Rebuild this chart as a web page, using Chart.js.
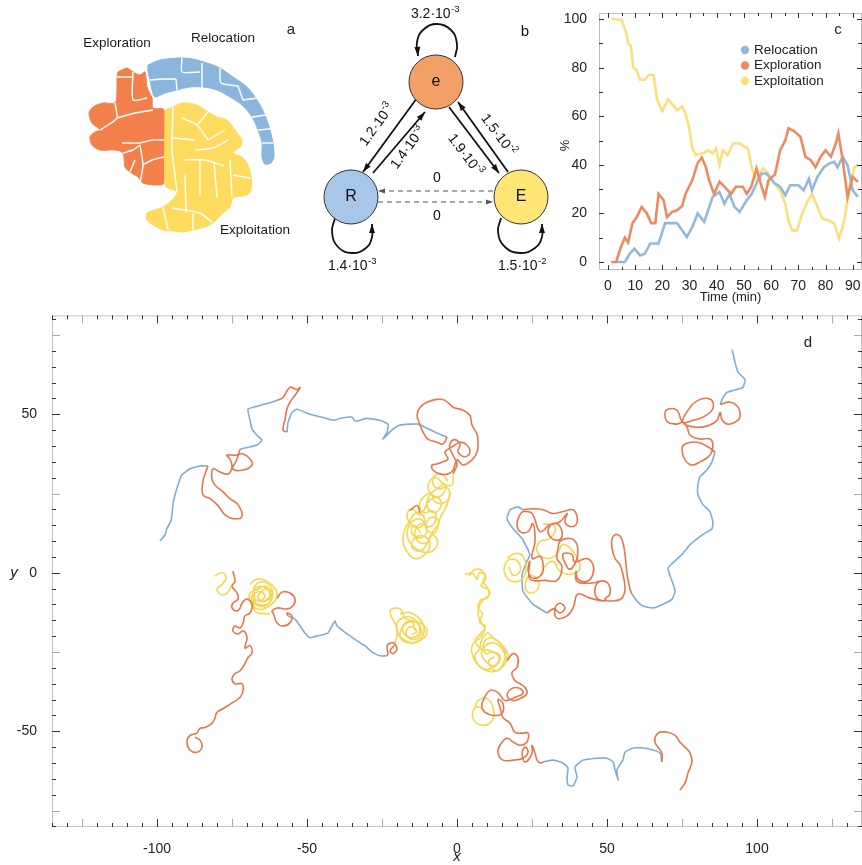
<!DOCTYPE html>
<html><head><meta charset="utf-8">
<script src="https://cdn.jsdelivr.net/npm/chart.js@4.4.0/dist/chart.umd.min.js"></script>
<style>
body{margin:0;background:#fff;width:862px;height:865px;position:relative;overflow:hidden}
canvas{position:absolute}
</style></head><body>
<canvas id="cd" width="862" height="565" style="left:0;top:300px"></canvas>
<canvas id="ca" width="300" height="290" style="left:0;top:0"></canvas>
<canvas id="cb" width="250" height="290" style="left:300px;top:0"></canvas>
<canvas id="cc" width="317" height="310" style="left:545px;top:0"></canvas>
<script>
// ---------------- DATA ----------------
// Panel a : cluster map (arbitrary map units)
const explorationRegion = [[118,72],[127,68],[133,72],[140,75],[145,72],[147,87],[152,98],[153,108],[164,110],[164,183],[157,185],[143,183],[138,177],[130,172],[125,167],[123,153],[115,150],[100,150],[92,145],[90,137],[95,132],[100,130],[92,123],[89,113],[93,107],[103,103],[115,103],[117,90],[117,77]];
const exploitationRegion = [[165,110],[173,107],[182,103],[197,105],[208,112],[217,117],[227,120],[233,127],[237,133],[242,140],[240,147],[233,153],[242,157],[248,165],[251,177],[251,190],[247,195],[233,198],[230,207],[223,213],[213,223],[205,227],[193,230],[183,232],[173,231],[163,230],[153,225],[147,220],[147,213],[155,210],[163,207],[172,200],[177,192],[168,188],[165,185]];
const relocationRegion = [[148,65],[160,60],[180,58],[193,59],[207,63],[220,68],[233,77],[247,87],[257,100],[265,115],[270,130],[273,143],[274,157],[271,163],[265,164],[262,157],[262,143],[258,130],[252,117],[242,105],[230,97],[217,90],[203,87],[190,87],[177,90],[165,93],[155,97],[152,90],[150,80],[148,72]];
const cellBorders = [
 [[150,80],[162,79],[176,79]],[[176,79],[177,90]],[[182,58],[182,72],[200,72]],[[202,63],[202,88]],[[220,68],[221,83],[238,86]],[[238,86],[243,100]],[[243,100],[258,98]],[[252,117],[266,115]],[[258,130],[270,129]],[[262,143],[273,143]],
 [[117,77],[133,77]],[[133,72],[133,100],[147,98]],[[115,103],[117,118],[108,125],[100,130]],[[117,118],[135,113],[153,110]],[[122,143],[140,143],[152,140],[164,140]],[[123,153],[133,150],[140,145]],[[140,145],[143,165],[140,183]],[[143,165],[152,160],[164,157]],[[130,172],[135,160]],
 [[173,107],[172,150],[175,175],[177,192]],[[182,118],[197,125],[208,140]],[[173,138],[195,140]],[[197,125],[208,112]],[[195,150],[213,148],[228,140]],[[185,160],[205,160],[224,166]],[[200,160],[200,195]],[[214,162],[217,198]],[[230,160],[232,197]],[[185,175],[186,213]],[[172,208],[200,213],[213,223]],[[193,213],[193,230]],[[163,207],[168,230]],[[233,175],[250,178]],[[208,140],[225,130]]
];
const regionLabels = [['Exploration',117,43],['Relocation',223,38],['Exploitation',255,230]];

// Panel b : state diagram (diagram units)
const stateNames = ['e','R','E'];
const stateX = [136,51,221];
const stateY = [82,197,197];
const transitions = [ // [x0,y0,x1,y1,dashed]
 [117,98,63,172,0],[73,173,125,112,0],[149,107,199,173,0],[208,172,158,102,0],[193,191,78,191,1],[78,202,193,202,1]];
const loopE = [[155,57],[157,44],[151,30],[137,24],[123,30],[117,42],[118,56]];
const loopR = [[35,218],[32,232],[38,247],[52,253],[66,248],[72,237],[72,224]];
const loopEx = [[201,218],[198,232],[205,247],[220,253],[235,248],[242,237],[242,224]];
const rateBase = ['3.2·10','1.2·10','1.4·10','1.9·10','1.5·10','0','0','1.4·10','1.5·10'];
const rateExp  = ['-3','-3','-3','-3','-2','','','-3','-2'];
const rateX = [135,77,108,165,198,137,137,52,222];
const rateY = [14,125,148,155,135,178,216,266,266];
const rateRot = [0,-54,-54,53,53,0,0,0,0];

// Panel c : % over time
const relocTime = [2.5,6.2,8,9.7,11.8,13.6,15.5,18.6,21,25.4,27.3,29,31,33,35.4,38.5,41,42.8,44.7,46.5,48.4,51,52.8,54.6,56.5,58.3,61.4,63.3,65.2,67,70,72,73.9,75,77,79.4,81.3,83.2,84.4,86.3,88.1,90,91.9];
const relocPct  = [0,0,3.4,5.5,2.7,3.4,7.6,7.6,16,16,13,10.3,14.4,20,16.5,26.8,28.8,24,28,22.7,20.6,25.4,28,32.3,36.4,36.4,32.3,31,27.5,31.6,31.6,29.5,34.3,29.5,35,39,40.5,41.2,39,43.3,39.8,29.5,26.8];
const explTime = [1.2,3,4.7,6.2,7.4,9,10.6,12.4,14.3,15.9,17.4,18.6,20.5,21.7,23.6,25.4,27.3,28.5,31,32.9,34.5,36,37.2,39,41,42.8,45.3,47,49.6,51,52.7,54.6,56.5,57.7,59,61.4,63.3,65.2,66.4,68.3,70.8,72.6,74.5,76.3,78.2,80,82,83.8,84.7,86.3,88.1,90,91.9];
const explPct  = [0,0,6,10,8,16,18.5,22.7,20,16,16,28,25.4,18.5,20.6,21.3,23,28,33.6,40.5,43,39,33.6,28,33,31,28,31,31,28,31,38.5,31,26.8,33.6,36,46,50,55,54,51.5,43.3,42,39,43.3,46,43.3,48.8,53,42,26.8,35,33];
const exploitTime = [1.2,5,6.8,7.4,8.4,9.3,10.5,11.8,13.6,15,16.8,18,20,22,23.6,25.4,27.3,28.5,29.8,31,32.3,34,35.4,37,38.5,39.7,41,42.2,44,46,48.4,50.3,51.5,52.8,54.6,57,59,60.8,63.3,65.2,66.4,67.7,69.5,71.4,73.2,75,77,78.8,81.3,83.2,85,86.9,88.8,90.6,92];
const exploitPct  = [100,99.6,94,90,89,80,79,75,75,77,77,67,62,67,65,62.5,64,61,55.6,47,44,44.6,45,46,44.6,46.7,40,46,44,48.8,48.8,47.4,46.7,39,33.6,38.5,36.4,33,29.5,24,17,13,13,20,24.7,28,22.7,17.9,17,15.8,9.6,17,31,39,40];
const cXTickLabels = [0,10,20,30,40,50,60,70,80,90];
const cYTickLabels = [0,20,40,60,80,100];
const seriesNames = ['Relocation','Exploration','Exploitation'];

// Panel d : trajectories (x, y)
const t1Reloc1 = [[-99,10],[-97.3,12],[-96.7,14],[-95.5,16],[-95,18.3],[-94.7,21.5],[-94,24.6],[-93,27.7],[-91.7,30.9],[-89,32.8],[-85.7,33.7],[-83,33.7]];
const t1Expl1 = [[-83,33.7],[-84,31.2],[-84.7,28.7],[-84.7,24.6],[-82.3,23.4],[-80,21.5],[-77.3,18.3],[-74.7,17.1],[-71.7,17.7],[-73,21.5],[-75.7,23.4],[-78,25.5],[-80.7,27.7],[-81.7,29.6],[-81.3,32.8],[-79,31.8],[-76.3,31.2],[-75,33.4],[-75.7,35.9],[-76.7,37.1],[-74,37.1],[-71.3,37.5],[-69,35.9],[-68.3,34],[-71.3,32.4],[-74.7,32.8],[-73.5,35.5],[-72.3,39]];
const t1Reloc2 = [[-72.3,39],[-69,39.7],[-66.7,40.3],[-65,41.8],[-66.7,43.4],[-68.3,45.3],[-69,48.1],[-69.7,51.6],[-68,52.2],[-65.7,52.8],[-61.7,53.8],[-60,54.4]];
const t1Expl2 = [[-60,54.4],[-58,55.3],[-55.7,58.5],[-53.3,57.8],[-52.3,58.5],[-54,56],[-55.7,53.8],[-56.7,51.6],[-57.3,48.4],[-58,45],[-56.7,44.4]];
const t1Reloc3 = [[-56.7,44.4],[-56.3,47.5],[-55,50.6],[-53.3,51.6],[-49,50],[-45,49.1],[-41.3,48.1],[-39,48.7],[-35,49.1],[-34,47.8],[-30,48.7],[-25.7,48.1],[-23,46.9],[-23.3,44.4],[-24.7,42.2],[-21.7,45],[-19,46.6],[-15.7,46.9],[-13,46.9],[-10,45.6],[-5.7,43.7],[-3.3,42.8]];
const t1Expl3 = [[-3.3,42.8],[-4.7,40.6],[-6.7,41.2],[-9.7,42.2],[-11.3,44.4],[-12.3,46.6],[-13.3,49.7],[-12.3,52.2],[-10,53.8],[-6.7,54.7],[-4,54.4],[-1.3,52.2],[2,51.3],[4.3,49.7],[5,46.6],[6.7,43.7],[7,41.2],[6.7,38.1],[5,35.6],[2,34],[0,35.6],[-1.3,32.4],[-3,31.2],[-5.7,31.2],[-8,32.4],[-8.3,34],[-6.7,34.3],[-4.7,35],[-3,35.9],[-4,38.1],[-1.7,39.7],[1,41.2],[3.3,40.3],[4.3,38.1],[2.7,36.6],[0.3,38.1],[1,40.6],[-1,42],[-2.5,40],[-1.3,37],[0,34.3],[-1.3,31.2]];
const t1Exploit = [[-1.3,30.9],[-1.7,27.7],[-4.7,28.1],[-6.7,30],[-9,29],[-9.5,26],[-7,24],[-4.5,25],[-4,28],[-6.7,26.5],[-9,24.6],[-10,21.5],[-8,19],[-5.5,20.5],[-6,23.5],[-9,23],[-12.3,18.3],[-15,20.2],[-16.7,18.3],[-15,15],[-12,14.5],[-11,17.5],[-13.5,19],[-16,16],[-17.3,13.9],[-18,9.9],[-16.7,6.7],[-14,4.5],[-10.7,5.8],[-9,8.9],[-11,11.5],[-14,11],[-15,8],[-12,7],[-9.5,10],[-8,13],[-6,16],[-8.5,17.5],[-10.5,14.5],[-7.5,12.5],[-5.7,17.1],[-3.3,21.5],[-2.3,25.5]];
const t1Exploit2 = [[-3,29],[-5,31],[-7.5,30.5],[-8,28],[-6,26.5],[-3.5,27],[-2.5,24],[-4.5,22],[-7.5,22.5],[-8.5,25],[-11,24],[-12.5,21.5],[-11,19],[-8,19.5],[-7,17],[-9,14.5],[-12,15.5],[-14,13],[-13,10],[-10,9.5],[-8.5,12],[-6.5,10],[-8,7],[-11,6.5],[-13.5,7.5],[-16,10],[-16.5,13.5],[-14.5,16.5],[-11.5,16.5],[-10,13],[-12.5,11],[-15,12.5],[-14.5,15],[-12,12.5]];
const t1Expl4 = [[-15.7,19.6],[-13.3,21.2],[-12.3,18.9]];
const t2Reloc1 = [[91.7,70.4],[92.7,66.3],[93.7,63.2],[96,61],[95.3,58.5],[92,57.5],[90,56.9],[88.7,55.3],[87.7,53.1]];
const t2Expl1 = [[87.7,53.1],[91,53.8],[93.7,52.2],[94.3,49.1],[92.7,47.5],[90,46.9],[88.3,48.4],[87.7,50.6],[86.7,48.1],[84.3,46.6],[80,45.9],[75.3,47.5],[77.7,52.2],[80.3,54.4],[83.7,55],[85.3,53.8],[85,51.3],[82,49.1],[78.7,48.1],[75.3,47.5],[73.3,51.3],[70.3,51.6],[69.3,50],[70.3,47.5],[73.3,46.9],[75.3,47.5],[76.7,45.9],[77.7,43.4],[81,42.2],[84.3,42.2],[85.3,40.3],[84.3,37.1],[81,35],[78.3,34],[76,35.6],[75,39],[76,40.6],[80,41.2],[83.7,39.7],[86,38.1]];
const t2Reloc2 = [[86,38.1],[85,35],[83.3,32.4],[81,30.3],[80.3,27.7],[80.3,24.6],[82,21.5],[84.3,19.3],[85.3,16.1],[85,13.9],[82,12.1],[77.7,8.9],[75,5.8],[71.7,2.9],[70.3,1.4],[71.7,-2.7],[72.7,-5.8],[71.7,-8.3],[68.7,-9.9],[65.3,-11.1],[62,-10.5],[60,-8.9],[58.3,-6.7]];
const t2Expl2 = [[58.3,-6.7],[57.7,-5.2],[56.7,-0.5],[56,5.8],[55,10.5],[53.3,12.1],[51.7,10.8],[51.7,7.7],[52.7,4.5],[54.3,2.6],[55.3,-0.5],[56,-4.9],[55,-8],[52,-8.9],[49.3,-8.3],[51,-6.7],[50.3,-3.3],[47.7,-2.7],[46,-4.9],[46.7,-8],[49.3,-8.9],[44.3,-8],[40.3,-6.7],[38.7,-11.1],[36.7,-13.6],[33.3,-14.3],[32.7,-11.1],[34.3,-9.6],[36,-11.1],[34.3,-12.7],[32.3,-11.4],[30,-12.7]];
const t2Reloc3 = [[30,-12.7],[25.3,-9.9],[22,-5.8],[21.7,-0.5],[23.3,3.6],[24.3,5.8],[21.7,10.8],[18.7,13.9],[16.7,17.1],[17.7,19.9],[20.3,20.8],[22,19.9]];
const t2Expl3 = [[22,19.9],[25.3,20.2],[28.7,19.9],[32,18.7],[35.3,19.3],[38.7,19.9],[40,17.7],[39.7,15.2],[37.7,14.6],[36,16.1],[36.7,18.7],[34.3,16.1],[31,15.2],[33.3,15.5],[35,13],[34.3,10.5],[31.7,10.8],[30.3,13],[31,15.2],[27.7,13],[25,18.7],[22,19.3],[21,18.3],[20,15.5],[21,13],[23.7,13],[25.3,15.5],[26,9.9],[25,4.5],[27.7,5.2],[28.7,2.6],[28.3,-0.5],[25.3,-1.7],[23.7,0.5],[24.3,3.6],[24.3,-2],[29.3,-2.4],[33.3,-2.4],[35,2],[33.3,4.5],[33.7,7.7],[34.3,9.9],[37.7,10.8],[40,8.9],[40,4.5],[38.3,1.4],[37,1.4],[35.3,5.8],[38.3,5.8],[39,3.6],[40.3,3.6],[43.3,4.5],[45.3,2.6],[45.3,-0.5],[43.3,-2.7],[40.3,-2],[39.7,0.5],[40,-2.7],[44.3,-3.3],[47.7,-2.7]];
const t2Exploit1 = [[16.7,4.5],[19.3,6.1],[22,5.2],[23,1.4],[21.7,-2],[18.3,-2.7],[16,-0.5],[16,2.6],[17.7,4.2],[20.3,3.6],[21,0.5],[18.7,-0.8],[17.3,1.8]];
const t2Exploit2 = [[23.7,-0.5],[26.7,-1.7],[27,-4.9],[24.3,-6.4],[22.7,-4.2],[23.7,-1.1]];
const t2Exploit3 = [[28.7,15.5],[32.7,14.6],[31,10.8],[27.7,9.9],[26.7,6.7],[30,4.5],[33.3,5.8],[35.3,8.9],[38.7,6.7],[41,1.4],[37.7,-0.5],[34.3,0.5],[32,3.6],[29.3,2],[27.7,-1.1]];
const t3Exploit1 = [[-80.7,-1],[-78.3,0],[-77,-1.7],[-78.3,-3.6],[-80,-5.2],[-78.3,-7],[-76.3,-6.1],[-75.3,-4.2]];
const t3Expl1 = [[-74.7,0.5],[-74,-2.7],[-75,-4.2],[-73.3,-6.4],[-73,-8.3],[-74.7,-9.6],[-75,-11.1],[-73.3,-12.1],[-72.3,-11.1],[-71.7,-9.6],[-70,-8.3],[-68.3,-9.9],[-69,-12.7],[-70.7,-13.6],[-71.3,-15.8],[-72.3,-17.4],[-74,-16.8],[-74.7,-18.3],[-73,-19.3],[-71.3,-18.3],[-70,-20.5],[-70.7,-23.7],[-69,-23],[-68.3,-25.2],[-69.7,-26.8],[-70.7,-28.7],[-72.3,-30.9],[-74,-31.8],[-75,-33.4],[-74,-35],[-71.7,-35],[-71.3,-37.1],[-72.3,-39.3],[-74.7,-40.9],[-77.3,-42.5],[-80,-44],[-80.7,-45.9],[-81.7,-47.5],[-84,-48.8],[-85.7,-49.1],[-86.7,-50.6],[-89,-51.3],[-90,-53.4],[-89,-55.9],[-86.7,-56.6],[-85,-55],[-85.7,-52.8],[-87.3,-51.9]];
const t3Exploit2 = [[-69,-3.6],[-66.7,-2],[-63.3,-2.7],[-60.7,-4.9],[-60,-7.4],[-61.7,-9.9],[-64.7,-11.4],[-67.3,-11.1],[-69,-8.9],[-69,-6.4],[-66.3,-5.2],[-64,-4.2],[-62.3,-6.4],[-64,-8.9],[-66.3,-8],[-65,-5.8],[-62.7,-5],[-61.5,-7.5],[-63.5,-10],[-67,-9.5],[-67.5,-6.5],[-67.3,-12.1],[-62.3,-13]];
const t3Exploit4 = [[-68,-5],[-66,-3],[-63,-3.5],[-61.5,-6],[-63,-8.5],[-66,-9],[-68,-7],[-66.5,-4.5],[-63.5,-5],[-62,-8],[-64,-10.5],[-67,-10],[-68.5,-7.5],[-65.5,-6],[-64,-7.5],[-65.5,-9]];
const t3Expl2 = [[-60,-8],[-58.3,-6.1],[-55.7,-6.4],[-54,-8.3],[-54.7,-10.5],[-56.7,-11.4],[-60,-11.1],[-61.7,-12.1],[-61.3,-12.7],[-60,-15.8],[-58,-16.8],[-55.7,-15.8],[-55,-13.6],[-56.7,-12.7],[-56.3,-13.6]];
const t3Reloc1 = [[-56.3,-13.6],[-54,-14.6],[-52.3,-16.8],[-50.7,-19],[-49,-20.5],[-46.7,-19.9],[-45,-19.6],[-43,-19],[-41.3,-16.1],[-40.7,-15.2],[-40,-16.8],[-38,-18.3],[-35.7,-19.9],[-33.3,-21.5],[-30.7,-23],[-28,-25.2],[-25.7,-26.2],[-23.3,-26.2]];
const t3Expl3 = [[-23.3,-26.2],[-23,-25.5],[-23.3,-23],[-21.3,-22.1],[-20,-24],[-21.3,-25.5],[-22.3,-24.6],[-21,-23]];
const t3Exploit3 = [[-21,-23],[-20,-19.9],[-20,-17.4],[-22.3,-12.1],[-19,-11.4],[-17.3,-14.3],[-14.7,-15.2],[-11.7,-16.1],[-10,-18.3],[-11.3,-20.8],[-14.7,-22.1],[-18,-21.5],[-19,-19],[-17,-16],[-14,-15.5],[-12,-17.5],[-12.5,-20],[-15,-21],[-17,-19],[-15.5,-17],[-13.5,-18.5],[-15,-19.5]];
const t3Exploit5 = [[-19,-13],[-16,-12.5],[-13,-14],[-11,-17],[-11.5,-20],[-14,-22],[-17,-21.5],[-19.5,-19.5],[-20,-16],[-17.5,-14],[-14.5,-14.5],[-12.5,-17],[-13,-19.5],[-15.5,-20.5],[-18,-18.5],[-17.5,-16],[-15,-15.5],[-14,-18]];
const t4Exploit1 = [[2.7,-0.5],[5.3,-0.2],[6.7,-2],[7.5,0],[9.5,-1],[8.7,-2.7],[10.3,-4.9],[11,-6.7],[9.3,-8],[7.7,-9.9],[7,-13],[8.3,-16.1],[9.3,-17.7],[7.7,-20.5],[5.3,-22.4],[5,-25.5],[6.7,-28.7],[10,-30.9],[13.3,-30.9],[16,-28.7],[17,-26.2],[15.3,-23],[12,-20.5],[10,-19],[7.7,-23.7],[11,-24.6],[14.3,-26.2],[12.7,-29.3],[9.3,-27.7],[8.3,-24.6],[11.7,-22.1],[15,-24],[16.7,-27.7]];
const t4Exploit3 = [[4,-1],[6,1],[8.5,0.5],[9.5,-2],[8,-4],[10.5,-5.5],[10,-8],[8,-8.5],[7,-11],[8.5,-13],[7.5,-15.5],[9.5,-17],[8,-19],[6,-21.5],[7.5,-24],[6,-26],[7,-29],[9.5,-30.5],[12.5,-29.5],[14,-27],[12,-25],[9.5,-25.5],[9,-22],[11.5,-20.5],[14,-22],[16,-25],[15.5,-28.5],[13,-31],[10.5,-28],[12.5,-26.5]];
const t4Expl1 = [[16.7,-27.7],[18.7,-25.5],[20.3,-26.8],[20,-29.9],[18.3,-31.5],[19.3,-34],[21,-35],[22.7,-36.2],[23.3,-38.1],[21,-39.7],[18.7,-40.3],[16.7,-38.7],[18.3,-36.5],[21,-36.5],[22,-38.1],[20,-39],[16,-40.3],[13.7,-37.8],[11,-37.1],[8.7,-40.3],[8.3,-42.5],[9.3,-44],[12,-45],[15,-44.4],[15.3,-41.2],[13.7,-40],[14.5,-43],[15.3,-45.6],[17.7,-47.5],[19.3,-50.3],[21.7,-50.6],[23.7,-50.6],[23.3,-53.4],[21,-54.4],[18.7,-53.4],[16.7,-52.2],[14.3,-54.4],[13.7,-56.9],[15.3,-59.1],[18.7,-59.1],[22,-58.5],[23.7,-56.6],[22.7,-55],[21.7,-56.9],[22.7,-59.7],[25,-57],[25,-54.4],[26,-56.9],[26.7,-59.1],[27.7,-60],[28.7,-59.7]];
const t4Exploit2 = [[6,-42.5],[7,-40.3],[10,-39.7],[12,-42.5],[11.7,-46.6],[8.3,-48.1],[5.3,-45.9],[6,-42.5],[7.7,-42.5],[9.3,-43.5]];
const t4Reloc1 = [[28.7,-59.7],[32,-59.1],[35.3,-60],[37,-61.6],[36.7,-64.4],[37,-66.9],[38.7,-67.2],[40,-64.4],[39.3,-61.3],[42,-59.1],[46.7,-58.5],[50,-58.5],[52,-59.7],[52.7,-62.2],[53.7,-65.4],[53.3,-62.2],[55.3,-59.1],[56,-56.6],[58.7,-55.3],[62,-55.3],[65.3,-55.9],[67.7,-56.9],[68.3,-59.7]];
const t4Expl2 = [[68.3,-59.7],[68.3,-56.9],[66,-53.4],[67,-50.6],[70,-50.3],[72.7,-51.3],[74.3,-53.4],[76,-55],[77.7,-56.9],[78.3,-59.7],[77,-63.2],[76,-66.3],[74.3,-68.5]];
const relocationTracks = [t1Reloc1,t1Reloc2,t1Reloc3,t2Reloc1,t2Reloc2,t2Reloc3,t3Reloc1,t4Reloc1];
const explorationTracks = [t1Expl1,t1Expl2,t1Expl3,t1Expl4,t2Expl1,t2Expl2,t2Expl3,t3Expl1,t3Expl2,t3Expl3,t4Expl1,t4Expl2];
const exploitationTracks = [t1Exploit,t1Exploit2,t2Exploit1,t2Exploit2,t2Exploit3,t3Exploit1,t3Exploit2,t3Exploit4,t3Exploit3,t3Exploit5,t4Exploit1,t4Exploit3,t4Exploit2];
const dXTickLabels = [-100,-50,0,50,100];
const dYTickLabels = [-50,0,50];

// ---------------- HELPERS ----------------
const FONT = "'Liberation Sans', Arial, Helvetica, sans-serif";
const toPts = a => a.map(p => ({x:p[0], y:p[1]}));
// Chart.js paints dataset 0 last (on top); pass layers bottom-first and reverse
const layered = arr => arr.slice().reverse();
function hiddenOpts(w,h){
  return {responsive:false,animation:false,events:[],devicePixelRatio:1,layout:{padding:0,autoPadding:false},
    plugins:{legend:{display:false},tooltip:{enabled:false}},
    scales:{x:{type:'linear',display:false,min:0,max:w},y:{type:'linear',display:false,min:0,max:h,reverse:true}}};
}
function setTicks(vals){ return s => { s.ticks = vals.map(v=>({value:v})); }; }
function framePlugin(xStep,yStep,xLen,yLen,frameColor){
  return {id:'frame',afterDraw(chart){
    const {ctx,chartArea:a,scales:{x,y}} = chart;
    ctx.save();
    ctx.strokeStyle = frameColor; ctx.lineWidth = 1;
    ctx.strokeRect(a.left+0.5,a.top+0.5,a.right-a.left-1,a.bottom-a.top-1);
    const x0 = Math.ceil(x.min/xStep)*xStep;
    for(let v=x0; v<=x.max+1e-9; v+=xStep){
      const p = Math.round(x.getPixelForValue(v))+0.5; const t = xLen(v);
      ctx.strokeStyle = t[1]; ctx.beginPath();
      ctx.moveTo(p,a.bottom); ctx.lineTo(p,a.bottom-t[0]);
      ctx.moveTo(p,a.top); ctx.lineTo(p,a.top+t[0]); ctx.stroke();
    }
    const y0 = Math.ceil(y.min/yStep)*yStep;
    for(let v=y0; v<=y.max+1e-9; v+=yStep){
      const p = Math.round(y.getPixelForValue(v))+0.5; const t = yLen(v);
      ctx.strokeStyle = t[1]; ctx.beginPath();
      ctx.moveTo(a.left,p); ctx.lineTo(a.left+t[0],p);
      ctx.moveTo(a.right,p); ctx.lineTo(a.right-t[0],p); ctx.stroke();
    }
    ctx.restore();
  }};
}
function arrowHead(ctx,x0,y0,x1,y1,len,wid){
  const ang = Math.atan2(y1-y0,x1-x0);
  ctx.save(); ctx.translate(x1,y1); ctx.rotate(ang);
  ctx.beginPath(); ctx.moveTo(0,0); ctx.lineTo(-len,wid/2); ctx.lineTo(-len,-wid/2); ctx.closePath(); ctx.fill();
  ctx.restore();
}

// ---------------- PANEL A ----------------
const colA = {expl:'#f3804b', reloc:'#8ab6de', exploit:'#fcdb5e'};
function poly(pts,color){
  return {data:toPts(pts.concat([pts[0]])),showLine:true,fill:'shape',backgroundColor:color,borderColor:color,borderWidth:1,pointRadius:0,tension:0.3};
}
new Chart(document.getElementById('ca'),{
  type:'scatter',
  data:{datasets:layered([poly(explorationRegion,colA.expl),poly(relocationRegion,colA.reloc),poly(exploitationRegion,colA.exploit)]
    .concat(cellBorders.map(l=>({data:toPts(l),showLine:true,borderColor:'#ffffff',borderWidth:1.4,pointRadius:0,tension:0.2}))))},
  options:hiddenOpts(300,290),
  plugins:[{id:'alabels',afterDraw(chart){
    const {ctx,scales:{x,y}} = chart; ctx.save();
    ctx.fillStyle='#1a1a1a'; ctx.font='13.5px '+FONT; ctx.textAlign='center'; ctx.textBaseline='middle';
    regionLabels.forEach(l=>ctx.fillText(l[0],x.getPixelForValue(l[1]),y.getPixelForValue(l[2])));
    ctx.font='15px '+FONT; ctx.fillText('a',x.getPixelForValue(291),y.getPixelForValue(30));
    ctx.restore();
  }}]
});

// ---------------- PANEL B ----------------
const nodeColors = ['#f2a067','#a8c6e8','#fee574'];
const bLayers = [];
transitions.forEach(t=>bLayers.push({data:[{x:t[0],y:t[1]},{x:t[2],y:t[3]}],showLine:true,pointRadius:0,
  borderColor:t[4]?'#555':'#111',borderWidth:t[4]?1:1.8,borderDash:t[4]?[5,4]:[],arrow:true,dashed:!!t[4]}));
[loopE,loopR,loopEx].forEach(l=>bLayers.push({data:toPts(l),showLine:true,pointRadius:0,borderColor:'#111',borderWidth:1.8,tension:0.45,arrow:true,dashed:false}));
bLayers.push({data:stateX.map((v,i)=>({x:v,y:stateY[i]})),showLine:false,pointRadius:27,
  pointBackgroundColor:nodeColors,pointBorderColor:'#333',pointBorderWidth:1});
new Chart(document.getElementById('cb'),{
  type:'scatter',
  data:{datasets:layered(bLayers)},
  options:hiddenOpts(250,290),
  plugins:[{id:'blabels',afterDatasetsDraw(chart){
    const {ctx,scales:{x,y}} = chart; ctx.save();
    chart.data.datasets.forEach((ds,i)=>{
      if(!ds.arrow) return;
      const pts = chart.getDatasetMeta(i).data; const n = pts.length;
      ctx.fillStyle = ds.borderColor;
      arrowHead(ctx,pts[n-2].x,pts[n-2].y,pts[n-1].x,pts[n-1].y,ds.dashed?7:9,ds.dashed?5:6);
    });
    ctx.fillStyle='#111'; ctx.textAlign='center'; ctx.textBaseline='middle';
    ctx.font='16px '+FONT;
    stateNames.forEach((s,i)=>ctx.fillText(s,x.getPixelForValue(stateX[i]),y.getPixelForValue(stateY[i])));
    rateBase.forEach((b,i)=>{
      ctx.save(); ctx.translate(x.getPixelForValue(rateX[i]),y.getPixelForValue(rateY[i])); ctx.rotate(rateRot[i]*Math.PI/180);
      ctx.font='14px '+FONT; const w1 = ctx.measureText(b).width;
      ctx.font='9.5px '+FONT; const w2 = rateExp[i]?ctx.measureText(rateExp[i]).width:0;
      const x0 = -(w1+w2)/2;
      ctx.textAlign='left'; ctx.font='14px '+FONT; ctx.fillText(b,x0,0);
      if(rateExp[i]){ ctx.font='9.5px '+FONT; ctx.fillText(rateExp[i],x0+w1+0.5,-5); }
      ctx.restore();
    });
    ctx.font='15px '+FONT; ctx.textAlign='center'; ctx.fillText('b',x.getPixelForValue(225),y.getPixelForValue(32));
    ctx.restore();
  }}]
});

// ---------------- PANEL C ----------------
const colC = ['#94b8dc','#ec8b5e','#f9e07c'];
const lineDs = (t,v,c)=>({data:t.map((tt,i)=>({x:tt,y:v[i]})),showLine:true,pointRadius:0,borderColor:c,borderWidth:2.6,tension:0});
new Chart(document.getElementById('cc'),{
  type:'scatter',
  data:{datasets:layered([lineDs(exploitTime,exploitPct,colC[2]),lineDs(relocTime,relocPct,colC[0]),lineDs(explTime,explPct,colC[1])])},
  options:{responsive:false,animation:false,events:[],devicePixelRatio:1,layout:{padding:{top:13,right:0,left:0,bottom:0},autoPadding:false},
    plugins:{legend:{display:false},tooltip:{enabled:false}},
    scales:{
      x:{type:'linear',min:-3.3,max:93.4,afterBuildTicks:setTicks(cXTickLabels),afterFit:s=>{s.height=40;},
         grid:{display:false},border:{display:false},ticks:{padding:0,color:'#222',font:{family:FONT,size:14},maxRotation:0,autoSkip:false}},
      y:{type:'linear',min:-3.3,max:102.5,afterBuildTicks:setTicks(cYTickLabels),afterFit:s=>{s.width=54;},
         grid:{display:false},border:{display:false},ticks:{padding:4,color:'#222',font:{family:FONT,size:14},autoSkip:false}}
    }},
  plugins:[framePlugin(5,10,v=>[v%10===0?5:3,'#333'],v=>[v%20===0?5:4,'#333'],'#bdbdbd'),
   {id:'clabels',afterDraw(chart){
    const {ctx,chartArea:a} = chart; ctx.save();
    ctx.fillStyle='#222'; ctx.textBaseline='middle';
    ctx.font='13px '+FONT; ctx.textAlign='center';
    ctx.fillText('Time (min)',(a.left+a.right)/2,a.bottom+27);
    ctx.save(); ctx.translate(20,(a.top+a.bottom)/2+4); ctx.rotate(-Math.PI/2); ctx.fillText('%',0,0); ctx.restore();
    ctx.font='15px '+FONT; ctx.fillText('c',a.right-24,a.top+17);
    ctx.font='13.5px '+FONT; ctx.textAlign='left';
    seriesNames.forEach((s,i)=>{
      const yy = a.top+37+i*15.5;
      ctx.fillStyle=colC[i]; ctx.beginPath(); ctx.arc(a.left+146,yy,4.2,0,2*Math.PI); ctx.fill();
      ctx.fillStyle='#222'; ctx.fillText(s,a.left+155,yy);
    });
    ctx.restore();
  }}]
});

// ---------------- PANEL D ----------------
const colD = {reloc:'#7eadd6',expl:'#e7764a',exploit:'#f6d64e'};
const trackDs = (a,c,ten)=>({data:toPts(a),showLine:true,pointRadius:0,borderColor:c,borderWidth:1.6,tension:ten});
const dLayers = []
  .concat(relocationTracks.map(a=>trackDs(a,colD.reloc,0.15)))
  .concat(exploitationTracks.map(a=>trackDs(a,colD.exploit,0.45)))
  .concat(explorationTracks.map(a=>trackDs(a,colD.expl,0.4)));
const dTick = v => { if(v%50===0) return [8,'#333']; if(v%25===0) return [8,'#aaa']; return [4,'#333']; };
new Chart(document.getElementById('cd'),{
  type:'scatter',
  data:{datasets:layered(dLayers)},
  options:{responsive:false,animation:false,events:[],devicePixelRatio:1,layout:{padding:{top:13,right:0,left:0,bottom:0},autoPadding:false},
    plugins:{legend:{display:false},tooltip:{enabled:false}},
    scales:{
      x:{type:'linear',min:-135,max:135,afterBuildTicks:setTicks(dXTickLabels),afterFit:s=>{s.height=38;},
         grid:{display:false},border:{display:false},ticks:{padding:6,color:'#222',font:{family:FONT,size:14},maxRotation:0,autoSkip:false}},
      y:{type:'linear',min:-80.2,max:81.2,afterBuildTicks:setTicks(dYTickLabels),afterFit:s=>{s.width=52;},
         grid:{display:false},border:{display:false},ticks:{padding:7,color:'#222',font:{family:FONT,size:14},autoSkip:false}}
    }},
  plugins:[framePlugin(5,5,dTick,dTick,'#c4c4c4'),
   {id:'dlabels',afterDraw(chart){
    const {ctx,chartArea:a,scales:{x,y}} = chart; ctx.save();
    ctx.fillStyle='#222'; ctx.textAlign='center'; ctx.textBaseline='middle';
    ctx.font='italic 15px '+FONT;
    ctx.fillText('x',x.getPixelForValue(0),a.bottom+30);
    ctx.fillText('y',14,y.getPixelForValue(0));
    ctx.font='15px '+FONT; ctx.fillText('d',a.right-54,a.top+27);
    ctx.restore();
  }}]
});
</script>
</body></html>
